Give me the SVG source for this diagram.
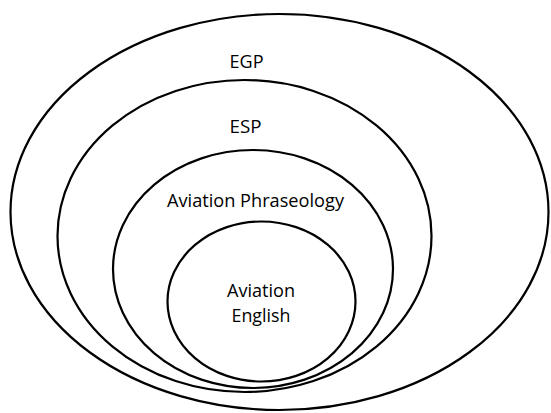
<svg xmlns="http://www.w3.org/2000/svg" width="551" height="413" viewBox="0 0 551 413">
<style>
.ring{fill:none;stroke:#000;stroke-width:2.2}
.lbl{font-family:"Open Sans","Liberation Sans",sans-serif;font-size:18px;fill:#000;text-anchor:middle}
</style>
<rect width="551" height="413" fill="#fff"/>
<g id="egp"><ellipse class="ring" cx="279.5" cy="212" rx="269" ry="198"/><text class="lbl" x="246.5" y="68" textLength="34" lengthAdjust="spacingAndGlyphs">EGP</text></g>
<g id="esp"><ellipse class="ring" cx="244.5" cy="236" rx="187" ry="156"/><text class="lbl" x="245.5" y="133" textLength="32" lengthAdjust="spacingAndGlyphs">ESP</text></g>
<g id="phraseology"><ellipse class="ring" cx="253" cy="269" rx="140" ry="119"/><text class="lbl" x="255.5" y="207" textLength="177" lengthAdjust="spacingAndGlyphs">Aviation Phraseology</text></g>
<g id="aviation-english"><ellipse class="ring" cx="261.5" cy="301.5" rx="94" ry="80"/><text class="lbl" x="261" y="297" textLength="68" lengthAdjust="spacingAndGlyphs">Aviation</text><text class="lbl" x="261" y="322" textLength="59" lengthAdjust="spacingAndGlyphs">English</text></g>
<g id="connectors"/>
</svg>
